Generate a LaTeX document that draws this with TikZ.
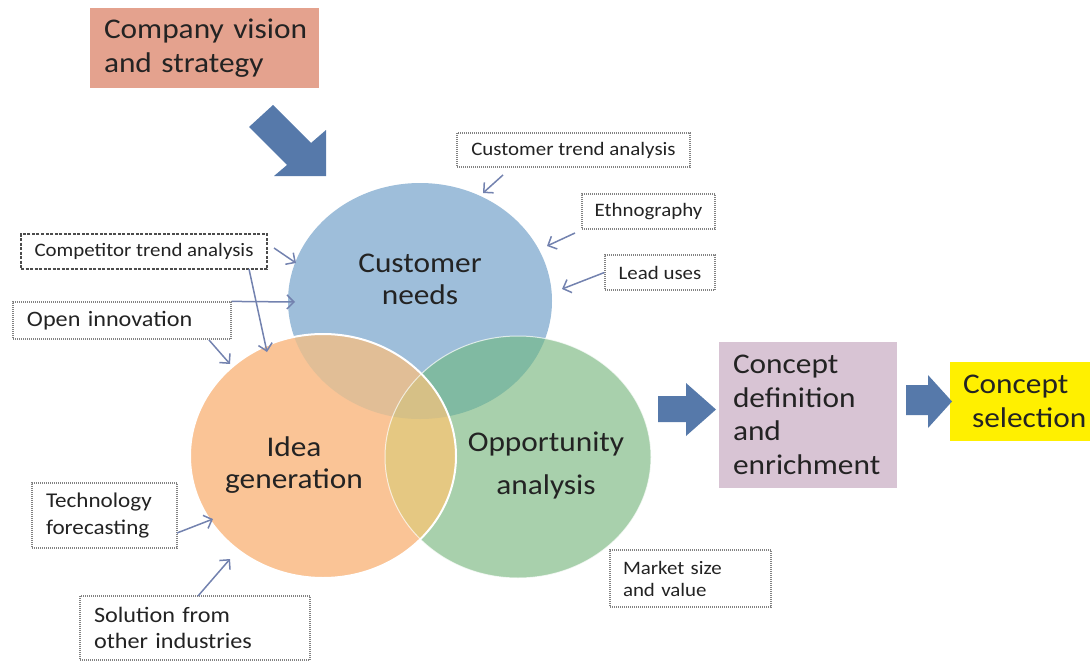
\documentclass[tikz,border=0pt]{standalone}
\usepackage{fontspec}
\setmainfont{Carlito}[FakeStretch=1.1]
\usetikzlibrary{arrows.meta}
\definecolor{bluec}{RGB}{158,190,218}
\definecolor{orangec}{RGB}{250,196,150}
\definecolor{greenc}{RGB}{168,208,172}
\definecolor{boc}{RGB}{225,190,150}
\definecolor{bgc}{RGB}{128,186,162}
\definecolor{ogc}{RGB}{229,200,130}
\definecolor{bogc}{RGB}{214,192,134}
\definecolor{salmonc}{RGB}{228,162,142}
\definecolor{mauvec}{RGB}{216,196,212}
\definecolor{yellowc}{RGB}{255,240,0}
\definecolor{arrc}{RGB}{86,121,170}
\definecolor{thinc}{RGB}{115,130,175}
\definecolor{txtc}{RGB}{35,35,35}
\definecolor{dotc}{RGB}{130,130,130}
\newcommand\fbigtxt{\fontsize{28.5}{33.5}\selectfont}
\newcommand\fsmalltxt{\fontsize{19}{22}\selectfont}
\begin{document}
\begin{tikzpicture}[x=1pt,y=-1pt,
  bigbox/.style={inner xsep=14pt, inner ysep=0pt, align=left, font=\fbigtxt, text=txtc},
  smallbox/.style={draw=dotc, dash pattern=on 1pt off 1pt, line width=1.2pt, inner ysep=0pt, font=\fsmalltxt, text=txtc},
  thinarr/.style={draw=thinc, line width=1.5pt, -{Straight Barb[length=7pt,width=14pt]}},
  blockarr/.style={fill=arrc},
  circtxt/.style={align=center, text=txtc}]
\useasboundingbox (0,0) rectangle (1090,661);

% --- Venn ellipses ---
\fill[bluec] (420,301) ellipse [x radius=132pt, y radius=118pt];
\fill[greenc] (518,457) ellipse [x radius=133pt, y radius=121pt];
\fill[orangec] (323,456) ellipse [x radius=133pt, y radius=122pt];
\begin{scope}
  \clip (420,301) ellipse [x radius=132pt, y radius=118pt];
  \fill[boc] (323,456) ellipse [x radius=133pt, y radius=122pt];
  \fill[bgc] (518,457) ellipse [x radius=133pt, y radius=121pt];
\end{scope}
\begin{scope}
  \clip (323,456) ellipse [x radius=133pt, y radius=122pt];
  \fill[ogc] (518,457) ellipse [x radius=133pt, y radius=121pt];
  \clip (420,301) ellipse [x radius=132pt, y radius=118pt];
  \fill[bogc] (518,457) ellipse [x radius=133pt, y radius=121pt];
\end{scope}
\draw[white, line width=1pt, opacity=0.7] (518,457) ellipse [x radius=133pt, y radius=121pt];
\draw[white, line width=2pt] (323,456) ellipse [x radius=133pt, y radius=122pt];

\node[circtxt, font=\fontsize{28.5}{32}\selectfont] (cn) at (420,279) {Customer\\needs};
\node[circtxt, font=\fontsize{28.5}{32}\selectfont] (ig) at (294,465) {Idea\\generation};
\node[circtxt, font=\fontsize{28.5}{43}\selectfont] (oa) at (546,465) {Opportunity\\analysis};

% --- big boxes ---
\node[bigbox, fill=salmonc, minimum width=229pt, minimum height=80pt, text width=201pt] (cvs) at (204.5,48) {\mbox{Company vision}\\\mbox{and strategy}};
\node[bigbox, fill=mauvec, minimum width=176pt, minimum height=146pt, text width=150pt] (cde) at (808,415) {\mbox{Concept}\\\mbox{definition}\\\mbox{and}\\\mbox{enrichment}};
\node[bigbox, fill=yellowc, minimum height=79pt, inner xsep=13pt, text width=127pt] (csel) at (1026.5,401.5) {\mbox{Concept}\\\mbox{\hspace*{9pt}selection}};

% --- block arrows ---
\fill[blockarr] (273,105) -- (311,143) -- (326,130) -- (326,176) -- (274,176) -- (287,165) -- (249,127) -- cycle;
\fill[blockarr] (658,396) -- (686,396) -- (686,383) -- (716,409.5) -- (686,436) -- (686,422) -- (658,422) -- cycle;
\fill[blockarr] (906,385) -- (928,385) -- (928,375) -- (952,401.5) -- (928,428) -- (928,415) -- (906,415) -- cycle;

% --- small boxes ---
\node[smallbox, minimum width=233pt, minimum height=34pt] (ctb) at (573.5,150) {Customer trend analysis};
\node[smallbox, minimum width=133pt, minimum height=35pt] (eth) at (648.5,211.5) {Ethnography};
\node[smallbox, minimum width=110pt, minimum height=35pt] (lead) at (660,272.5) {Lead uses};
\node[smallbox, draw=black!70, dash pattern=on 3pt off 1.5pt, minimum width=246pt, minimum height=35pt] (comp) at (144,251.5) {Competitor trend analysis};
\node[smallbox, align=left, inner xsep=14pt, text width=190pt, minimum height=37pt, font=\fontsize{22}{26}\selectfont] (open) at (122,320.5) {Open innovation};
\node[smallbox, align=left, inner xsep=14pt, text width=117pt, minimum height=65pt, font=\fontsize{21}{27}\selectfont] (tech) at (104.5,515.5) {\mbox{Technology}\\\mbox{forecasting}};
\node[smallbox, align=left, inner xsep=14pt, text width=202pt, minimum height=64pt, font=\fontsize{22}{26}\selectfont] (sol) at (195,628) {\mbox{Solution from}\\\mbox{other industries}};
\node[smallbox, align=left, inner xsep=13pt, text width=135pt, minimum height=57pt, font=\fontsize{19}{22}\selectfont] (mkt) at (690.5,578.5) {\mbox{Market size}\\\mbox{and value}};

% --- thin arrows ---
\coordinate (a1s) at (503,175); \coordinate (a1e) at (483,193);
\coordinate (a2s) at (575,233); \coordinate (a2e) at (547,246);
\coordinate (a3e) at (562,289);
\coordinate (a4s) at (274,248); \coordinate (a4e) at (296,263);
\coordinate (a5s) at (249,269); \coordinate (a5e) at (267,352);
\coordinate (a6e) at (295,302);
\coordinate (a7s) at (209,340); \coordinate (a7e) at (230,364);
\coordinate (a8s) at (177,533); \coordinate (a8e) at (213,519);
\coordinate (a9s) at (198,596); \coordinate (a9e) at (230,559);
\draw[thinarr] (a1s) -- (a1e);
\draw[thinarr] (a2s) -- (a2e);
\draw[thinarr] (lead.west) -- (a3e);
\draw[thinarr] (a4s) -- (a4e);
\draw[thinarr] (a5s) -- (a5e);
\draw[thinarr] (open.north east) -- (a6e);
\draw[thinarr] (a7s) -- (a7e);
\draw[thinarr] (a8s) -- (a8e);
\draw[thinarr] (a9s) -- (a9e);
\end{tikzpicture}
\end{document}
